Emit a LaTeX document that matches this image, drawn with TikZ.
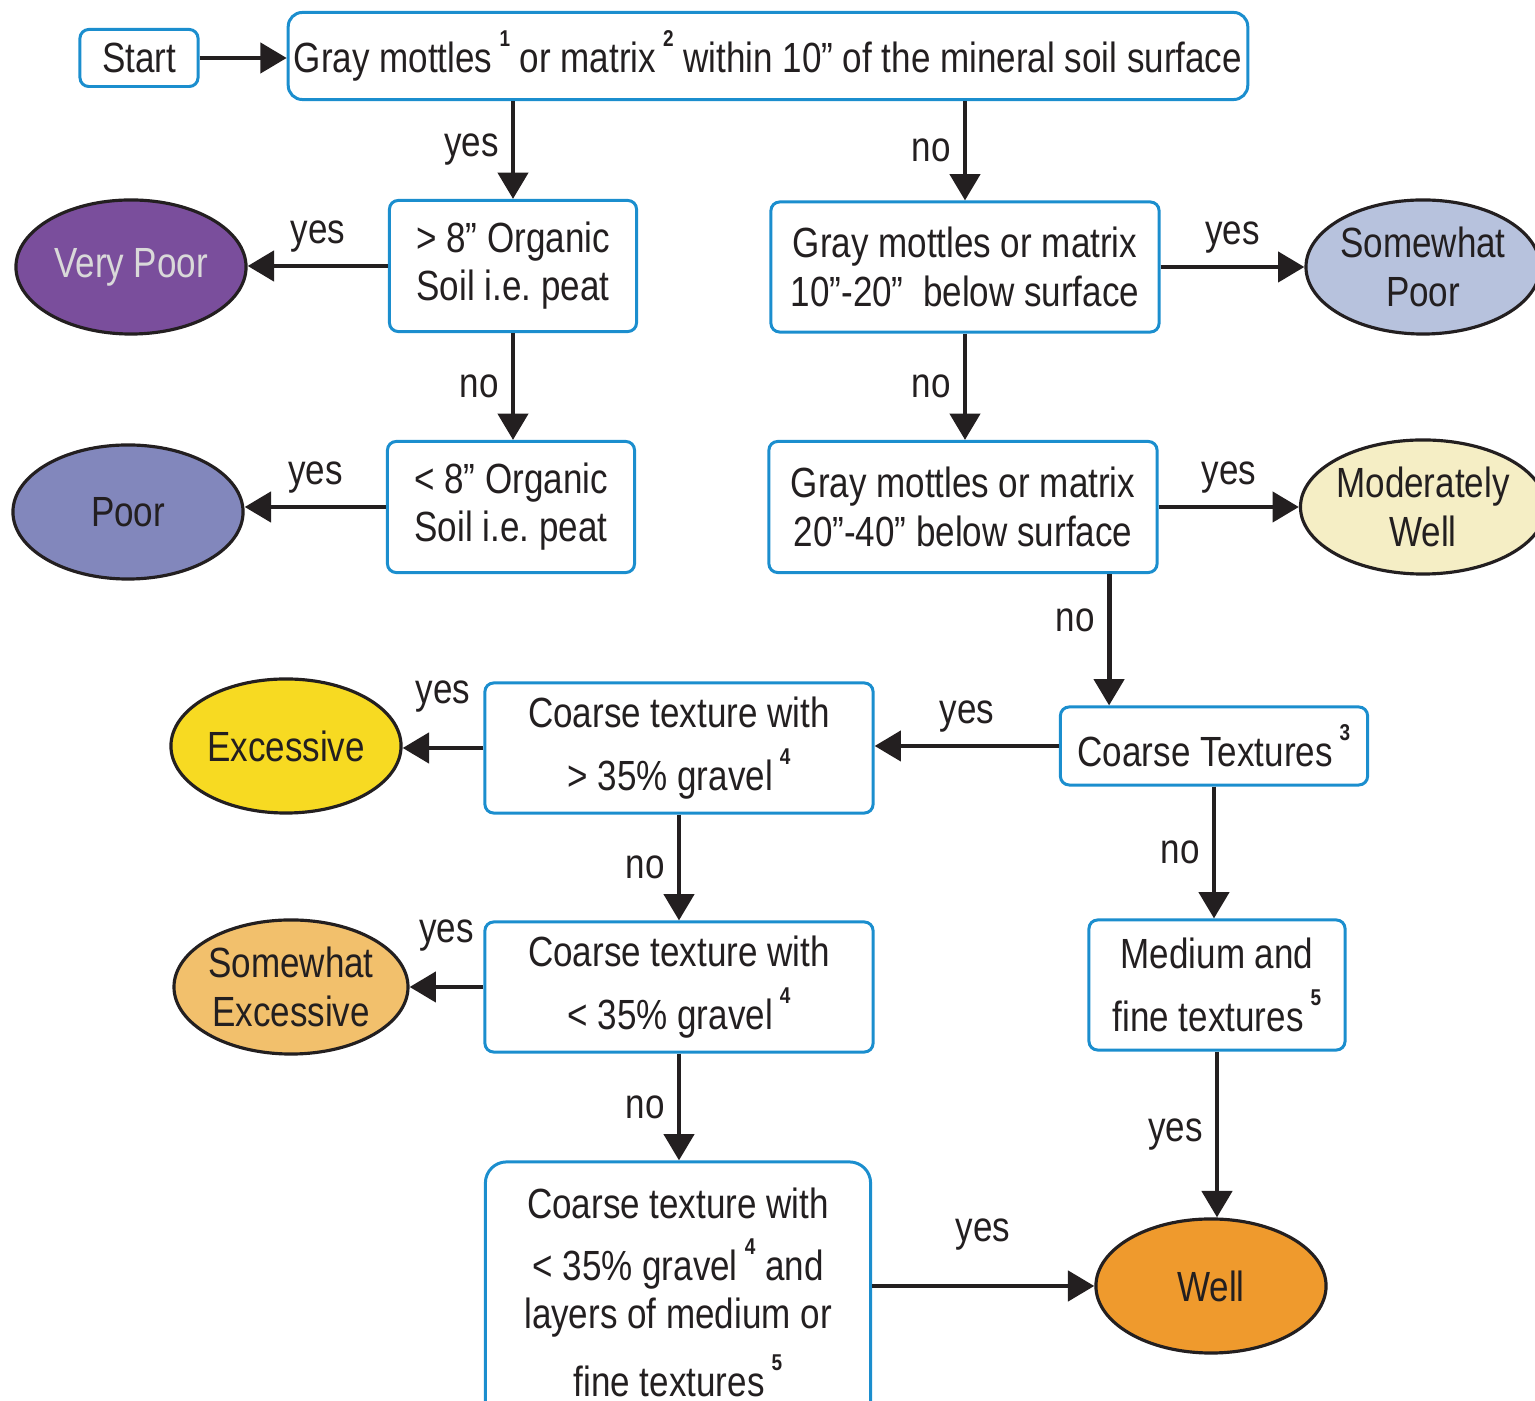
\documentclass[tikz,border=0pt]{standalone}
\usepackage{fontspec}
\setmainfont{Liberation Sans}[FakeStretch=0.83]
\usetikzlibrary{shapes.geometric,arrows.meta}
\definecolor{ink}{HTML}{231F20}
\definecolor{boxblue}{HTML}{1B8ECE}
\definecolor{vpurple}{HTML}{7A4E9C}
\definecolor{ppurple}{HTML}{8287BC}
\definecolor{spblue}{HTML}{B7C2DD}
\definecolor{mwcream}{HTML}{F5EEC5}
\definecolor{exyellow}{HTML}{F7DA22}
\definecolor{seorange}{HTML}{F2C06C}
\definecolor{wellorange}{HTML}{EF9A2D}
\newcommand{\fnote}[1]{\,\raisebox{1.15ex}{\fontsize{6.5}{6.5}\selectfont\bfseries #1}}

\begin{document}
\begin{tikzpicture}[x=0.01cm,y=-0.01cm]
\tikzstyle{every node}=[font=\fontsize{12}{13.7}\selectfont, text=ink]
\tikzstyle{question}=[
  rectangle,
  draw=boxblue,
  line width=0.85pt,
  rounded corners=2.5pt,
  align=center,
  inner sep=0pt ]
\tikzstyle{class}=[
  ellipse,
  draw=ink,
  line width=0.9pt,
  minimum width=2.3cm,
  minimum height=1.34cm,
  inner sep=0pt,
  align=center ]
\tikzstyle{yesno}=[draw=ink, line width=1.4pt, -{Triangle[length=7.5pt,width=8.5pt]}]
\useasboundingbox (0,0) rectangle (1535,1401);
\node[question, minimum width=1.18cm, minimum height=0.57cm] (start) at (139,58) {Start};
\node[question, rounded corners=4pt, minimum width=9.59cm, minimum height=0.87cm] (top) at (768,56)
  {Gray mottles\fnote{1} or matrix\fnote{2} within 10” of the mineral soil surface};
\node[question, minimum width=2.47cm, minimum height=1.31cm] (organicA) at (513,266)
  {> 8” Organic\\Soil i.e.\ peat};
\node[question, minimum width=2.47cm, minimum height=1.31cm] (organicB) at (511,507)
  {< 8” Organic\\Soil i.e.\ peat};
\node[question, minimum width=3.88cm, minimum height=1.30cm] (mottlesC) at (965,267)
  {Gray mottles or matrix\\10”-20”\ \ below surface};
\node[question, minimum width=3.88cm, minimum height=1.31cm] (mottlesD) at (963,507)
  {Gray mottles or matrix\\20”-40” below surface};
\node[question, minimum width=3.07cm, minimum height=0.78cm] (coarse) at (1214,746)
  {Coarse Textures\fnote{3}};
\node[question, minimum width=3.88cm, minimum height=1.30cm] (gravelA) at (679,748)
  {Coarse texture with\\[4pt]> 35\% gravel\fnote{4}};
\node[question, minimum width=3.88cm, minimum height=1.30cm] (gravelB) at (679,987)
  {Coarse texture with\\[4pt]< 35\% gravel\fnote{4}};
\node[question, rounded corners=6pt, minimum width=3.85cm, minimum height=2.6cm] (layered) at (678,1292)
  {Coarse texture with\\[4pt]< 35\% gravel\fnote{4} and\\layers of medium or\\[4pt]fine textures\fnote{5}};
\node[question, minimum width=2.56cm, minimum height=1.30cm] (medfine) at (1217,985)
  {Medium and\hspace{1.2em}\\[4pt]fine textures\fnote{5}};
\node[class, fill=vpurple, text=black!15] (verypoor) at (131,267) {Very Poor};
\node[class, fill=ppurple] (poor) at (128,512) {Poor};
\node[class, fill=spblue, minimum width=2.26cm] (spoor) at (1423,267) {Somewhat\\Poor};
\node[class, fill=mwcream, minimum width=2.26cm] (mwell) at (1423,507) {Moderately\\Well};
\node[class, fill=exyellow] (excessive) at (286,746) {Excessive};
\node[class, fill=seorange] (sexcessive) at (291,987) {Somewhat\\Excessive};
\node[class, fill=wellorange] (well) at (1211,1286) {Well};

\draw[yesno] (start) -- (start -| top.west);
\draw[yesno] (top.south -| organicA.north) -- node[left]{yes} (organicA.north);
\draw[yesno] (top.south -| mottlesC.north) -- node[left]{no} (mottlesC.north);
\draw[yesno] (organicA.west) -- node[above]{yes} (organicA.west -| verypoor.east);
\draw[yesno] (organicA.south) -- node[left]{no} (organicA.south |- organicB.north);
\draw[yesno] (organicB.west) -- node[above]{yes} (organicB.west -| poor.east);
\draw[yesno] (mottlesC.east) -- node[above]{yes} (mottlesC.east -| spoor.west);
\draw[yesno] (mottlesC.south) -- node[left]{no} (mottlesC.south |- mottlesD.north);
\draw[yesno] (mottlesD.east) -- node[above]{yes} (mottlesD.east -| mwell.west);
\draw[yesno] ([xshift=1.46cm]mottlesD.south) -- node[left, pos=0.35]{no} ([xshift=1.46cm]mottlesD.south |- coarse.north);
\draw[yesno] (coarse.west) -- node[above]{yes} (coarse.west -| gravelA.east);
\draw[yesno] (gravelA.west) -- node[above=6pt]{yes} (gravelA.west -| excessive.east);
\draw[yesno] (gravelA.south) -- node[left]{no} (gravelA.south |- gravelB.north);
\draw[yesno] (gravelB.west) -- node[above=6pt]{yes} (gravelB.west -| sexcessive.east);
\draw[yesno] (gravelB.south) -- node[left]{no} (gravelB.south |- layered.north);
\draw[yesno] (well.west -| layered.east) -- node[above=6pt]{yes} (well.west);
\draw[yesno] (coarse.south) -- node[left]{no} (coarse.south |- medfine.north);
\draw[yesno] (medfine.south) -- node[left]{yes} (medfine.south |- well.north);
\end{tikzpicture}
\end{document}
